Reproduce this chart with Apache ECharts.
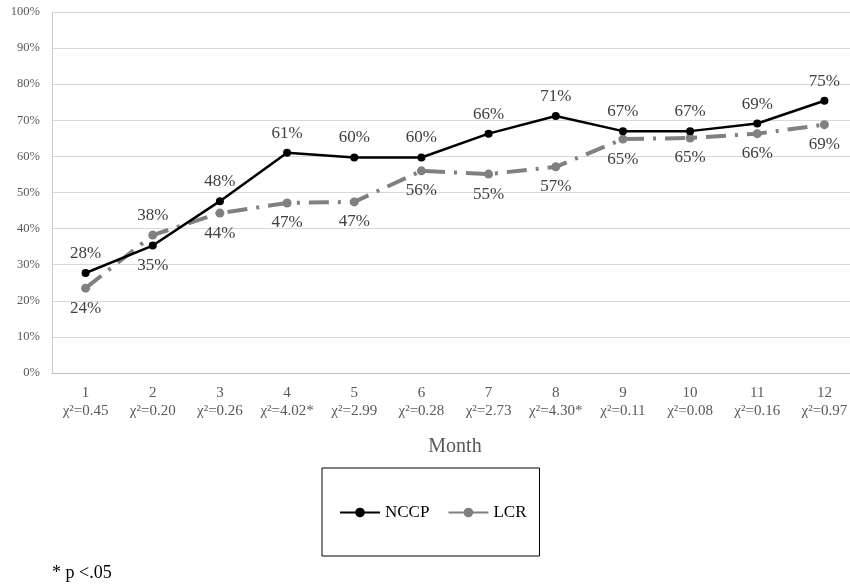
<!DOCTYPE html>
<html>
<head>
<meta charset="utf-8">
<script src="https://cdn.jsdelivr.net/npm/echarts@6/dist/echarts.min.js"></script>
<style>
  html, body { margin: 0; padding: 0; background: #fff; overflow: hidden; }
  /* plot area runs a little past the right edge of the picture */
  #chart { width: 858px; height: 587px; }
</style>
</head>
<body>
<div id="chart"></div>
<script>
// months and chi-square values under each month
const months = ['1', '2', '3', '4', '5', '6', '7', '8', '9', '10', '11', '12']
const chiSquare = ['0.45', '0.20', '0.26', '4.02*', '2.99', '0.28', '2.73', '4.30*', '0.11', '0.08', '0.16', '0.97']
// percentages
const nccp = [27.7, 35.3, 47.6, 61.0, 59.7, 59.7, 66.3, 71.2, 67.0, 67.0, 69.1, 75.4]
const lcr = [23.5, 38.2, 44.3, 47.1, 47.4, 56.0, 55.1, 57.1, 64.8, 65.1, 66.3, 68.8]

const serif = 'Liberation Serif'
const myChart = echarts.init(document.getElementById('chart'))

// label goes above for the higher series, below for the lower one
function labelPos (own, other) {
  return own.map((v, i) => ({
    value: v,
    label: { position: v >= other[i] ? 'top' : 'bottom' }
  }))
}

myChart.setOption({
  animation: false,
  grid: {
    left: 52,
    right: 0,
    top: 12,
    bottom: 214
  },
  legend: {
    left: 322,
    top: 468,
    padding: [36, 13, 35, 17],
    borderColor: '#000',
    borderWidth: 1,
    itemWidth: 40,
    itemHeight: 12,
    itemGap: 18,
    textStyle: { fontFamily: serif, fontSize: 17, color: '#000' },
    data: [
      { name: 'NCCP' },
      { name: 'LCR', lineStyle: { type: 'solid' } }
    ]
  },
  xAxis: {
    type: 'category',
    data: months.map((m, i) => m + '\nχ²=' + chiSquare[i]),
    boundaryGap: true,
    name: 'Month',
    nameLocation: 'middle',
    nameGap: 64,
    nameTextStyle: { fontFamily: serif, fontSize: 20, color: '#595959' },
    axisTick: { show: false },
    axisLine: { lineStyle: { color: '#bfbfbf' } },
    axisLabel: {
      fontFamily: serif,
      fontSize: 15,
      color: '#595959',
      lineHeight: 18,
      margin: 11,
      interval: 0
    }
  },
  yAxis: {
    type: 'value',
    min: 0,
    max: 100,
    interval: 10,
    axisLine: { show: true, lineStyle: { color: '#bfbfbf', type: 'dotted' } },
    axisTick: { show: false },
    axisLabel: {
      fontFamily: serif,
      fontSize: 12.5,
      color: '#595959',
      margin: 12,
      formatter: '{value}%'
    },
    splitLine: { lineStyle: { color: '#d9d9d9' } }
  },
  series: [
    {
      name: 'LCR',
      type: 'line',
      data: labelPos(lcr, nccp),
      symbol: 'circle',
      symbolSize: 9,
      itemStyle: { color: '#808080' },
      lineStyle: { color: '#808080', width: 4, type: [20, 9, 3, 9] },
      label: {
        show: true,
        distance: 7,
        fontFamily: serif,
        fontSize: 17,
        color: '#404040',
        formatter: p => Math.round(p.value) + '%'
      },
      z: 2
    },
    {
      name: 'NCCP',
      type: 'line',
      data: labelPos(nccp, lcr),
      symbol: 'circle',
      symbolSize: 8,
      itemStyle: { color: '#000' },
      lineStyle: { color: '#000', width: 2.5 },
      label: {
        show: true,
        distance: 7,
        fontFamily: serif,
        fontSize: 17,
        color: '#404040',
        formatter: p => Math.round(p.value) + '%'
      },
      z: 3
    }
  ],
  graphic: [
    {
      type: 'text',
      left: 52,
      top: 564,
      style: { text: '* p <.05', font: '18px "Liberation Serif"', fill: '#000' }
    }
  ]
})
</script>
</body>
</html>
